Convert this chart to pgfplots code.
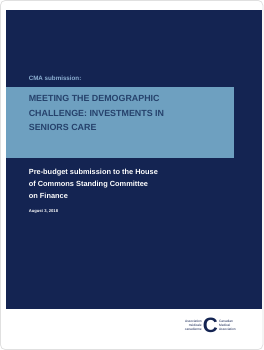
\documentclass[border=0pt]{standalone}
\usepackage{pgfplots}
\pgfplotsset{compat=1.18}
\usepackage{fontspec}
\setmainfont{Liberation Sans}
\definecolor{navy}{RGB}{20,36,82}
\definecolor{lblue}{RGB}{110,160,192}
\definecolor{ttext}{RGB}{38,66,108}
\definecolor{subc}{RGB}{140,175,210}
\begin{document}
\begin{tikzpicture}
\begin{axis}[scale only axis, width=268bp, height=350bp,
  xmin=0, xmax=268, ymin=0, ymax=350, y dir=reverse, hide axis,
  clip=false]
\draw[black!12, line width=0.8pt, rounded corners=5pt] (axis cs:1.5,-4) rectangle (axis cs:266.5,348.5);
\addplot[fill=navy, draw=none] coordinates {(7,6) (266,6) (266,308) (7,308)} -- cycle;
\addplot[fill=lblue, draw=none] coordinates {(7,83) (237,83) (237,155) (7,155)} -- cycle;
\node[anchor=west, text=subc, font=\bfseries\fontsize{6.3}{7}\selectfont, inner sep=0pt] at (axis cs:30,75) {CMA submission:};
\node[anchor=north west, text=ttext, font=\bfseries\fontsize{9}{14.5}\selectfont, align=left, inner sep=0pt] at (axis cs:30,92) {MEETING THE DEMOGRAPHIC\\CHALLENGE: INVESTMENTS IN\\SENIORS CARE};
\node[anchor=north west, text=white, font=\bfseries\fontsize{7.5}{12}\selectfont, align=left, inner sep=0pt] at (axis cs:30,166) {Pre-budget submission to the House\\of Commons Standing Committee\\on Finance};
\node[anchor=west, text=white, font=\bfseries\fontsize{4.2}{5}\selectfont, inner sep=0pt] at (axis cs:30,209) {August 3, 2018};
\node[anchor=east, text=navy, font=\fontsize{3.3}{3.9}\selectfont, align=right, inner sep=0pt] at (axis cs:205,324) {Association\\médicale\\canadienne};
\node[anchor=west, text=navy, font=\fontsize{3.3}{3.9}\selectfont, align=left, inner sep=0pt] at (axis cs:222,324) {Canadian\\Medical\\Association};
\node[text=navy, font=\bfseries\fontsize{21}{21}\selectfont, inner sep=0pt] at (axis cs:213.5,324) {C};
\end{axis}
\end{tikzpicture}
\end{document}
